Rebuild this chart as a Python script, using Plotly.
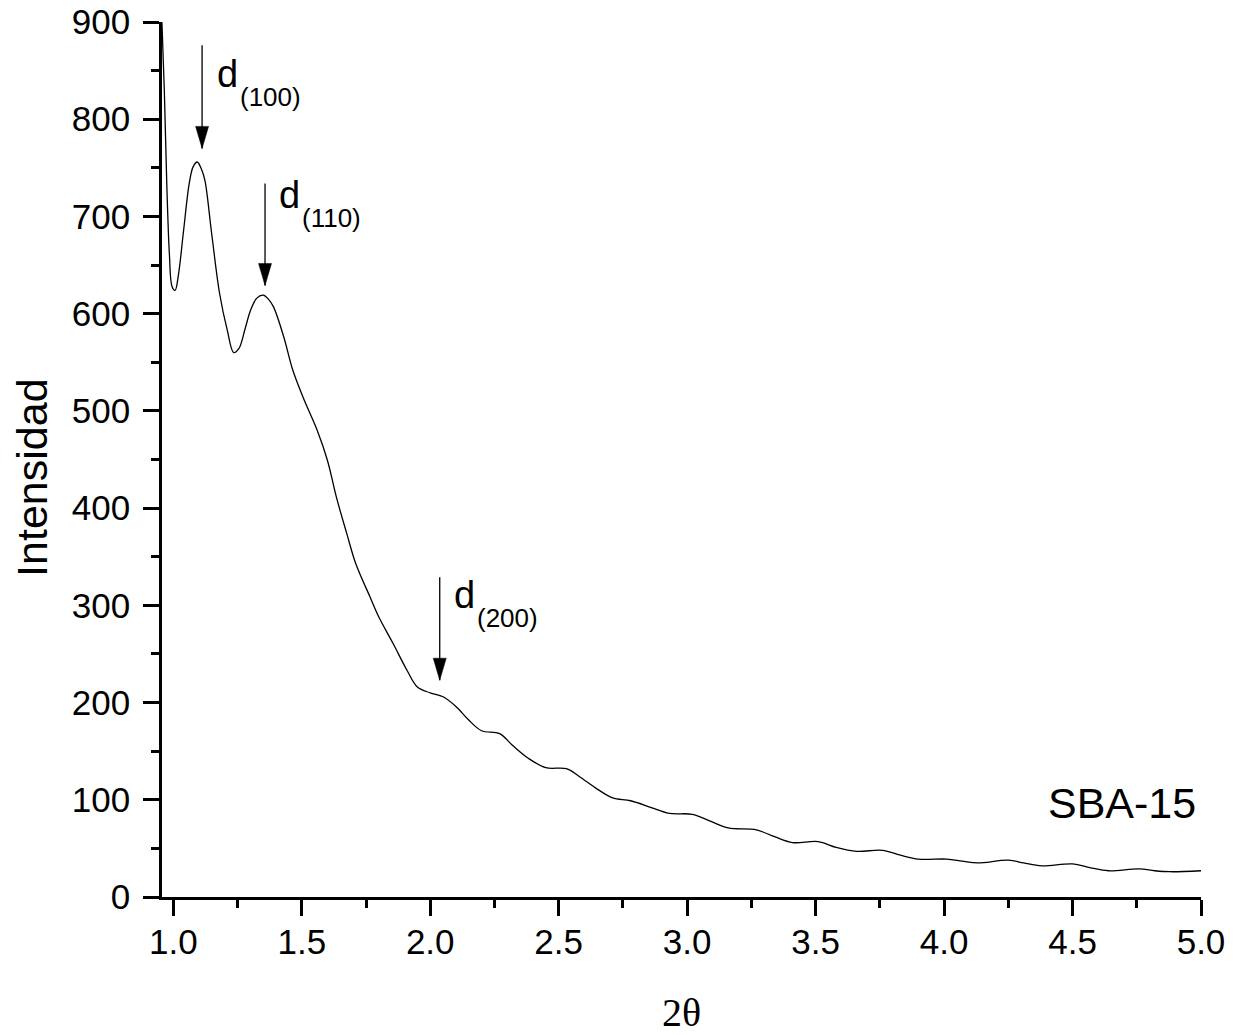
import plotly.graph_objects as go

# 2-theta (degrees) and intensity
two_theta = [0.955, 0.965, 0.975, 0.985, 0.995, 1.007, 1.02, 1.039, 1.062, 1.077, 1.093, 1.109, 1.123, 1.149,
             1.18, 1.21, 1.235, 1.255, 1.28, 1.30, 1.325, 1.35, 1.37, 1.39, 1.43, 1.465, 1.505, 1.56, 1.60, 1.635,
             1.675, 1.71, 1.765, 1.80, 1.855, 1.91, 1.95, 2.0, 2.05, 2.10, 2.15, 2.20, 2.27,
             2.32, 2.38, 2.45, 2.53, 2.58, 2.65, 2.71, 2.78, 2.86, 2.93, 3.02, 3.09, 3.16, 3.27,
             3.34, 3.41, 3.51, 3.58, 3.66, 3.76, 3.83, 3.90, 4.01, 4.07, 4.13, 4.25, 4.31, 4.38,
             4.50, 4.57, 4.64, 4.76, 4.82, 4.88, 5.0]
intensity = [905, 830, 730, 660, 628, 624, 640, 683, 734, 751, 756, 749, 737, 683,
             621, 583, 560, 564, 585, 603, 616, 619, 615, 607, 576, 542, 514, 480, 449, 411,
             374, 343, 309, 288, 261, 233, 216, 210, 206, 196, 182, 171, 168,
             156, 143, 133, 132, 124, 111, 102, 99, 92, 86, 85, 78, 71, 69,
             62, 56, 57, 51, 47, 48, 43, 39, 39, 37, 35, 38, 35, 32,
             34, 30, 27, 29, 27, 26, 27]

# peak labels: (main, subscript, arrow x, arrow top y, arrow tip y, label x, label y)
peaks = [
    ("d", "(100)", 1.112, 876, 770, 1.162, 847),
    ("d", "(110)", 1.357, 734, 629, 1.403, 722),
    ("d", "(200)", 2.037, 329, 223, 2.084, 311),
]
sample_label = "SBA-15"
y_title = "Intensidad"

fig = go.Figure()
fig.add_trace(go.Scatter(x=two_theta, y=intensity, mode="lines",
                         line=dict(color="black", width=1.3, shape="spline", smoothing=1.0),
                         showlegend=False, hoverinfo="skip"))

shapes = []
annotations = []
for main, sub, ax_, ytop, ytip, tx, ty in peaks:
    shapes.append(dict(type="line", xref="x", yref="y", x0=ax_, x1=ax_, y0=ytop, y1=ytip,
                       line=dict(color="black", width=1.3)))
    shapes.append(dict(type="path", xref="x", yref="y", xsizemode="pixel", ysizemode="pixel",
                       xanchor=ax_, yanchor=ytip, path="M -6.5,22 L 6.5,22 L 0,0 Z",
                       fillcolor="black", line=dict(color="black", width=0.5)))
    annotations.append(dict(x=tx, y=ty, xref="x", yref="y", text=main, showarrow=False,
                            xanchor="left", yanchor="middle",
                            font=dict(family="Liberation Sans, Arial", size=38, color="black")))
    annotations.append(dict(x=tx, y=ty, xref="x", yref="y", text=sub, showarrow=False,
                            xanchor="left", yanchor="middle", xshift=23, yshift=-23,
                            font=dict(family="Liberation Sans, Arial", size=26, color="black")))
annotations.append(dict(x=4.99, y=97, xref="x", yref="y", text=sample_label, showarrow=False,
                        xanchor="right", yanchor="middle",
                        font=dict(family="Liberation Sans, Arial", size=43, color="black")))
annotations.append(dict(x=0, y=0.479, xref="paper", yref="paper", text=y_title, showarrow=False,
                        textangle=-90, xanchor="center", yanchor="middle", xshift=-130,
                        font=dict(family="Liberation Sans, Arial", size=43, color="black")))

axis_common = dict(showline=True, linewidth=2.5, linecolor="black", ticks="outside",
                   ticklen=16, tickwidth=2.5, tickcolor="black", showgrid=False, zeroline=False,
                   ticklabeloverflow="allow", automargin=False,
                   tickfont=dict(family="Liberation Sans, Arial", size=35, color="black"))

fig.update_layout(
    width=1234, height=1035,
    margin=dict(l=162, r=33, t=22, b=138, autoexpand=False),
    plot_bgcolor="white", paper_bgcolor="white",
    xaxis=dict(range=[0.956, 5.0], tickmode="linear", tick0=1.0, dtick=0.5, tickformat=".1f",
               ticklabelstandoff=-4,
               minor=dict(ticks="outside", ticklen=8, tickwidth=2.5, tickcolor="black",
                          dtick=0.25, tick0=1.0, showgrid=False),
               title=dict(text="2θ", standoff=40,
                          font=dict(family="Liberation Serif, Times New Roman", size=40, color="black")),
               **axis_common),
    yaxis=dict(range=[0, 900], tickmode="linear", tick0=0, dtick=100,
               ticklabelstandoff=6,
               minor=dict(ticks="outside", ticklen=8, tickwidth=2.5, tickcolor="black",
                          dtick=50, tick0=0, showgrid=False),
               **axis_common),
    shapes=shapes,
    annotations=annotations,
)

fig.write_html("out.html", config={"displayModeBar": False},
               post_script="document.body.style.margin='0';")
